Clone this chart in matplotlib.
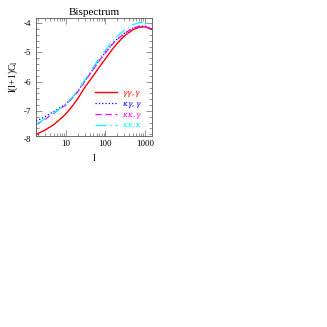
import matplotlib
matplotlib.use('Agg')
import matplotlib.pyplot as plt

# multipoles and log10 of l(l+1)C_l
ell = [1.8, 3, 5, 7, 10, 15, 20, 30, 50, 70, 100, 150, 200, 300, 500, 700, 1000, 1500]
ggg = [-7.80, -7.66, -7.47, -7.30, -7.11, -6.82, -6.59, -6.20, -5.79, -5.50, -5.22, -4.89, -4.69, -4.43, -4.22, -4.14, -4.12, -4.21]
kgg = [-7.35, -7.20, -7.02, -6.90, -6.77, -6.53, -6.33, -5.99, -5.56, -5.27, -5.00, -4.71, -4.54, -4.34, -4.16, -4.10, -4.10, -4.19]
kkg = [-7.47, -7.29, -7.08, -6.94, -6.80, -6.55, -6.35, -6.00, -5.57, -5.28, -5.01, -4.72, -4.55, -4.35, -4.17, -4.11, -4.11, -4.20]
kkk = [-7.45, -7.27, -7.07, -6.93, -6.78, -6.52, -6.30, -5.95, -5.50, -5.20, -4.92, -4.62, -4.44, -4.24, -4.05, -3.98, -3.97, -4.06]
labels = [r'$\gamma\gamma,\gamma$', r'$\kappa\gamma,\gamma$', r'$\kappa\kappa,\gamma$', r'$\kappa\kappa,\kappa$']
yticks = [-8, -7, -6, -5, -4]

plt.rcParams['font.family'] = ['Liberation Serif', 'DejaVu Serif']
plt.rcParams['mathtext.fontset'] = 'dejavuserif'

fig = plt.figure(figsize=(3.27, 3.27), dpi=100)
ax = fig.add_axes([0.109, 0.584, 0.356, 0.361])

ax.plot(ell, ggg, color='red', lw=1.0, ls='-', label=labels[0])
ax.plot(ell, kgg, color='blue', lw=0.9, ls=':', label=labels[1])
ax.plot(ell, kkg, color='magenta', lw=0.9, ls=(0, (5, 3)), label=labels[2])
ax.plot(ell, kkk, color='cyan', lw=0.9, ls=(0, (9, 3, 1, 3)), label=labels[3])

ax.set_xscale('log')
ax.set_xlim(1.75, 1500)
ax.set_ylim(-7.86, -3.82)
ax.set_yticks(yticks[1:])
ax.set_yticklabels([str(t) for t in yticks[1:]])
ax.set_xticks([10, 100, 1000])
ax.set_xticklabels(['10', '100', '1000'])
ax.yaxis.set_minor_locator(matplotlib.ticker.MultipleLocator(0.2))
# the -8 label sits just below the frame in the original
ax.text(-0.04, -8, '-8', transform=ax.get_yaxis_transform(), ha='right', va='center',
        fontsize=6.5, clip_on=False)

ax.tick_params(which='both', direction='in', top=True, right=True, labelsize=6.5,
               width=0.5, color='#666666', pad=3)
ax.tick_params(which='major', length=4)
ax.tick_params(which='minor', length=2)
for s in ax.spines.values():
    s.set_linewidth(0.6)
    s.set_color('#555555')

ax.set_title('Bispectrum', fontsize=8, pad=2)
ax.set_xlabel('l', fontsize=7, labelpad=4)
ax.set_ylabel(r'l(l+1)C$_{\rm l}$', fontsize=7, labelpad=3)

leg = ax.legend(loc='upper left', bbox_to_anchor=(0.51, 0.40), frameon=False, fontsize=5.5,
                labelcolor='linecolor', handlelength=2.9, labelspacing=0.12, handletextpad=0.6,
                borderpad=0, borderaxespad=0)

fig.savefig('out.png', dpi=100)
